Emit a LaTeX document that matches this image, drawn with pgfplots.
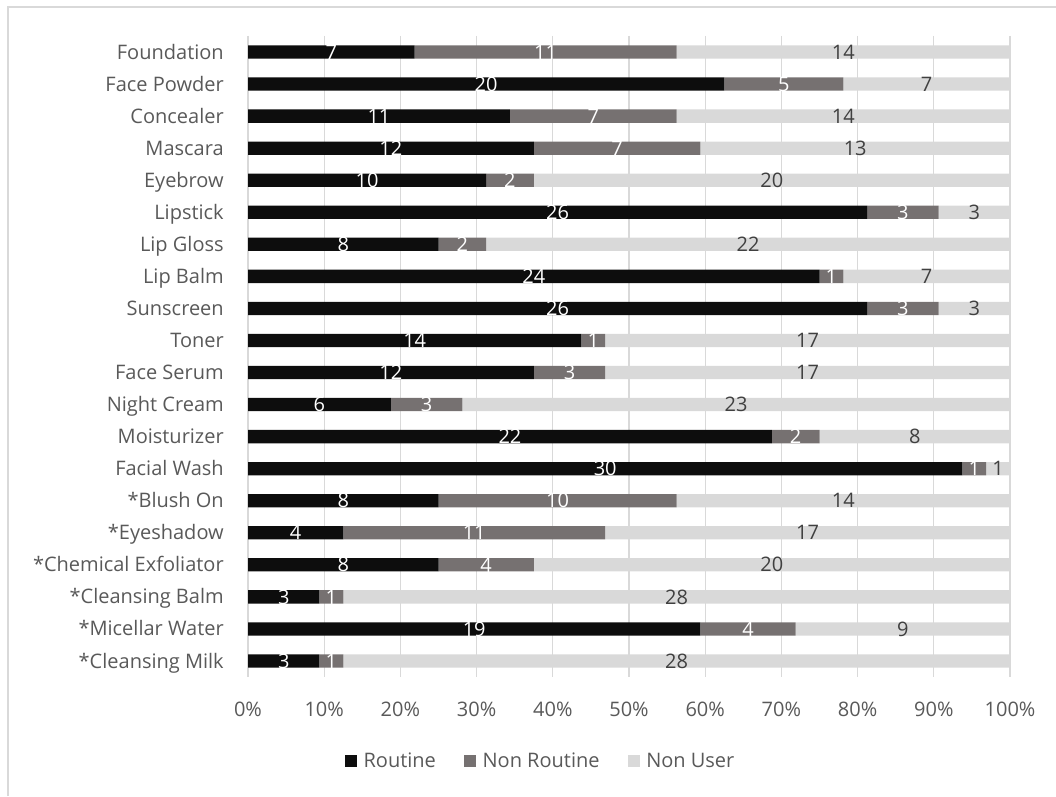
\documentclass[border=0pt]{standalone}
\usepackage{pgfplots}
\pgfplotsset{compat=1.18}
\usepackage{pgfplotstable}
\usepackage{fontspec}
\setmainfont{Open Sans}
\definecolor{routine}{HTML}{0D0D0D}
\definecolor{nonroutine}{HTML}{767171}
\definecolor{nonuser}{HTML}{D9D9D9}
\definecolor{txt}{HTML}{595959}
\definecolor{lbl}{HTML}{404040}
\definecolor{gridc}{HTML}{D9D9D9}
\pgfplotstableread{
idx r n u
0 7 11 14
1 20 5 7
2 11 7 14
3 12 7 13
4 10 2 20
5 26 3 3
6 8 2 22
7 24 1 7
8 26 3 3
9 14 1 17
10 12 3 17
11 6 3 23
12 22 2 8
13 30 1 1
14 8 10 14
15 4 11 17
16 8 4 20
17 3 1 28
18 19 4 9
19 3 1 28
}\data
\begin{document}
\begin{tikzpicture}
\path[use as bounding box] (0,0) rectangle (792pt,597pt);
\draw[gridc, line width=1pt] (6pt,0) -- (6pt,591.75pt) -- (792pt,591.75pt);
\begin{axis}[
  at={(186pt,89.25pt)}, anchor=south west,
  scale only axis, width=571.5pt, height=480.75pt,
  xbar stacked, bar width=10pt,
  xmin=0, xmax=32, ymin=-0.5, ymax=19.5,
  y dir=reverse,
  xtick={0,3.2,6.4,9.6,12.8,16,19.2,22.4,25.6,28.8,32},
  xticklabels={0\%,10\%,20\%,30\%,40\%,50\%,60\%,70\%,80\%,90\%,100\%},
  ytick={0,...,19},
  yticklabels={Foundation,Face Powder,Concealer,Mascara,Eyebrow~,Lipstick,Lip Gloss,Lip Balm~,Sunscreen,Toner,Face Serum,Night Cream,Moisturizer,Facial Wash,*Blush On,*Eyeshadow,*Chemical Exfoliator,*Cleansing Balm,*Micellar Water,*Cleansing Milk},
  /pgf/number format/assume math mode=true,
  axis line style={draw=none},
  major tick length=0pt,
  xmajorgrids, grid style={gridc, line width=1pt},
  tick label style={font=\fontsize{15}{18}\selectfont, text=txt},
  xticklabel style={anchor=base, yshift=-29.25pt, inner sep=0pt},
  yticklabel style={anchor=base east, xshift=-18pt, yshift=-5.3pt, inner sep=0pt},
  nodes near coords,
  point meta=explicit,
  every node near coord/.append style={font=\fontsize{15}{18}\selectfont, anchor=center, inner sep=0pt},
  legend columns=3,
  legend style={at={(0.3845,-0.131)}, anchor=center, draw=none, fill=none,
    font=\fontsize{15}{18}\selectfont, text=txt,
    /tikz/every odd column/.append style={column sep=3pt},
    /tikz/every even column/.append style={column sep=19pt}},
  legend image code/.code={\fill[#1] (0pt,-4.5pt) rectangle (9pt,4.5pt);},
]
\addplot[fill=routine, draw=none, every node near coord/.append style={text=white}] table[x=r, y=idx, meta=r] {\data};
\addplot[fill=nonroutine, draw=none, every node near coord/.append style={text=white}] table[x=n, y=idx, meta=n] {\data};
\addplot[fill=nonuser, draw=none, every node near coord/.append style={text=lbl}] table[x=u, y=idx, meta=u] {\data};
\legend{Routine, Non Routine, Non User}
\end{axis}
\end{tikzpicture}
\end{document}
